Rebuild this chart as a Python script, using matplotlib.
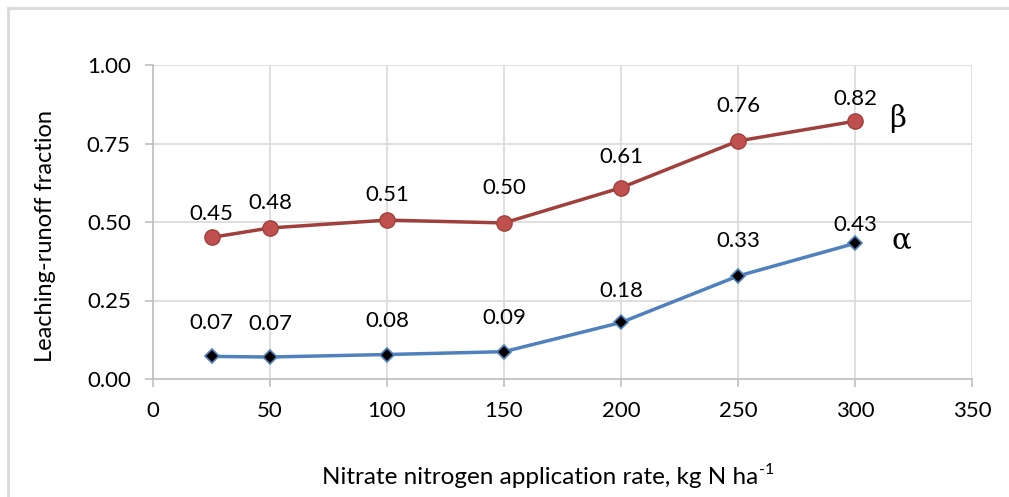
import matplotlib
matplotlib.use("Agg")
import matplotlib.pyplot as plt
from matplotlib.lines import Line2D

rates = [25, 50, 100, 150, 200, 250, 300]
beta = [0.451, 0.481, 0.506, 0.497, 0.609, 0.758, 0.821]
alpha = [0.072, 0.070, 0.078, 0.087, 0.180, 0.328, 0.432]
beta_labels = ["0.45", "0.48", "0.51", "0.50", "0.61", "0.76", "0.82"]
alpha_labels = ["0.07", "0.07", "0.08", "0.09", "0.18", "0.33", "0.43"]
xticks = [0, 50, 100, 150, 200, 250, 300, 350]
yticks = [0.00, 0.25, 0.50, 0.75, 1.00]

plt.rcParams['font.family'] = ['Lato', 'DejaVu Sans']

fig = plt.figure(figsize=(10.09, 4.97), dpi=100)
ax = fig.add_axes([153/1009, 1-379/497, (972-153)/1009, (379-65)/497])

# outer chart frame (only top and left edges visible in the crop)
fig.lines.append(Line2D([8/1009, 8/1009], [0, 1-8/497], transform=fig.transFigure,
                        color='#D9D9D9', linewidth=2))
fig.lines.append(Line2D([8/1009, 1], [1-8/497, 1-8/497], transform=fig.transFigure,
                        color='#D9D9D9', linewidth=2))

ax.plot(rates, beta, color='#A0403C', linewidth=2.5, marker='o', markersize=11,
        markerfacecolor='#C0504D', markeredgecolor='#A0403C', markeredgewidth=1, zorder=3)
ax.plot(rates, alpha, color='#4F81BD', linewidth=2.5, marker='D', markersize=7,
        markerfacecolor='black', markeredgecolor='#4F81BD', markeredgewidth=1.2, zorder=3)

beta_off = [17, 18, 18, 25, 22, 25, 16]
alpha_off = [24, 24, 24, 24, 23, 25, 13]
for x, y, t, o in zip(rates, beta, beta_labels, beta_off):
    ax.annotate(t, (x, y), xytext=(0, o), textcoords='offset points', ha='center',
                va='center', fontsize=16)
for x, y, t, o in zip(rates, alpha, alpha_labels, alpha_off):
    ax.annotate(t, (x, y), xytext=(0, o), textcoords='offset points', ha='center',
                va='center', fontsize=16)

ax.text(318, beta[-1] + 0.01, "β", fontsize=21, family=['DejaVu Serif'], va='center', ha='center')
ax.text(320, alpha[-1] + 0.01, "α", fontsize=21, family=['DejaVu Serif'], va='center', ha='center')

ax.set_xlim(0, 350)
ax.set_ylim(0, 1.0)
ax.set_xticks(xticks)
ax.set_yticks(yticks)
ax.set_yticklabels([f"{v:.2f}" for v in yticks])
ax.tick_params(axis='both', labelsize=16, colors='black', length=6, width=1.2,
               direction='out', pad=6)
ax.tick_params(axis='x', color='#BFBFBF', pad=10)
ax.tick_params(axis='y', color='#BFBFBF', pad=10)
ax.grid(True, color='#D9D9D9', linewidth=1.2)
ax.set_axisbelow(True)
for s in ['top', 'right']:
    ax.spines[s].set_visible(False)
for s in ['left', 'bottom']:
    ax.spines[s].set_color('#BFBFBF')
    ax.spines[s].set_linewidth(1.2)

ax.set_ylabel("Leaching-runoff fraction", fontsize=17)
ax.yaxis.set_label_coords((56 - 153) / 819, (379 - 236) / 314)

# x-axis title with a hyphen-style superscript
main = fig.text(322/1009, 1-477/497, "Nitrate nitrogen application rate, kg N ha",
                fontsize=17.5, ha='left', va='center')
fig.canvas.draw()
bb = main.get_window_extent()
fig.text((bb.x1 + 1) / 1009, 1-470/497, "-1", fontsize=11.5, ha='left', va='center')

fig.savefig("out.png", dpi=100)
